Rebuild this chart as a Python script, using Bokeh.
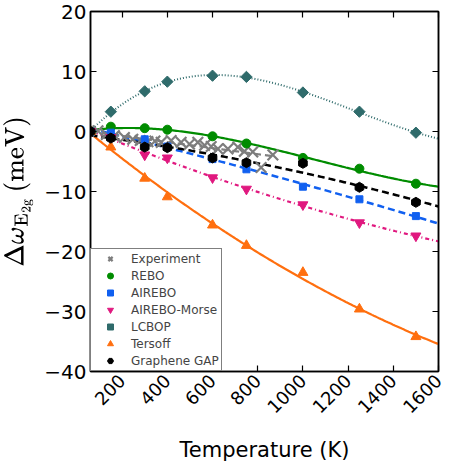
import math
import numpy as np
from bokeh.plotting import figure
from bokeh.models import Range1d, FixedTicker, LinearAxis, Legend, LegendItem
from bokeh.embed import file_html
from bokeh.resources import INLINE

# ---------------- data ----------------
T_model = [60, 150, 300, 400, 600, 750, 1000, 1250, 1500]
rebo = [0.0, 0.8, 0.55, 0.3, -0.8, -2.0, -4.4, -6.2, -8.7]
airebo = [0.0, -0.2, -1.3, -2.5, -4.6, -6.3, -9.2, -11.3, -14.1]
airebo_morse = [0.0, -1.0, -3.9, -4.4, -7.7, -9.6, -12.2, -15.2, -17.4]
lcbop = [0.0, 3.3, 6.7, 8.3, 9.3, 9.1, 6.5, 3.3, -0.2]
tersoff = [0.0, -2.6, -7.8, -10.9, -15.6, -19.0, -23.5, -29.6, -34.2]
gap = [0.0, -1.1, -2.6, -2.7, -4.4, -5.2, -5.3, -9.3, -11.8]

T_exp = [93, 130, 166, 210, 247, 280, 314, 345, 373, 417, 461, 498, 535,
         565, 594, 624, 668, 712, 741, 778, 815, 867]
exp = [0.1, -0.5, -0.7, -1.0, -1.3, -1.5, -1.7, -1.6, -1.8, -1.5, -1.8, -2.1, -1.8,
       -2.3, -2.5, -2.9, -2.9, -2.6, -3.3, -3.4, -6.0, -3.9]

x_ticks = [200, 400, 600, 800, 1000, 1200, 1400, 1600]
y_ticks = [-40, -30, -20, -10, 0, 10, 20]

X_MIN, X_MAX = 60, 1600
Y_MIN, Y_MAX = -40, 20

FONT = "DejaVu Sans"

p = figure(frame_width=348, frame_height=360, output_backend="svg",
           toolbar_location=None, x_range=Range1d(X_MIN, X_MAX),
           y_range=Range1d(Y_MIN, Y_MAX),
           min_border_left=81, min_border_right=12, min_border_top=11,
           min_border_bottom=84)
p.grid.visible = False
p.outline_line_color = "black"
p.outline_line_width = 1.5
p.background_fill_color = "white"
p.border_fill_color = "white"

for ax in [p.xaxis[0], p.yaxis[0]]:
    ax.major_tick_in = 6
    ax.major_tick_out = 0
    ax.minor_tick_in = 0
    ax.minor_tick_out = 0
    ax.axis_line_color = "black"
    ax.axis_line_width = 1.5
    ax.major_tick_line_width = 1.2
    ax.major_label_text_font = FONT
    ax.major_label_text_color = "black"
    ax.axis_label_text_font = FONT
    ax.axis_label_text_font_style = "normal"
    ax.axis_label_text_color = "black"

p.xaxis.ticker = FixedTicker(ticks=x_ticks)
p.yaxis.ticker = FixedTicker(ticks=y_ticks)
p.xaxis.major_label_orientation = math.pi / 4
p.xaxis.major_label_text_font_size = "18px"
p.xaxis.major_label_text_align = "center"
p.xaxis.major_label_standoff = 6
p.yaxis.major_label_text_font_size = "20px"
p.yaxis.major_label_overrides = {v: str(v).replace("-", "\u2212") for v in y_ticks}
p.yaxis.major_label_standoff = 4
p.xaxis.axis_label = "Temperature (K)"
p.xaxis.axis_label_text_font_size = "21px"
p.xaxis.axis_label_standoff = 16
p.yaxis.axis_label = r"$$\Delta\omega_{\mathrm{E_{2g}}}\,\mathrm{(meV)}$$"
p.yaxis.axis_label_text_font_size = "21px"
p.yaxis.axis_label_standoff = 8

# tick marks on top and right (no labels)
top = LinearAxis(ticker=FixedTicker(ticks=x_ticks),
                 major_label_overrides={t: "" for t in x_ticks},
                 major_label_text_font_size="2px",
                 major_tick_in=6, major_tick_out=0, minor_tick_in=0, minor_tick_out=0,
                 axis_line_width=1.5, major_tick_line_width=1.2, major_label_standoff=0)
right = LinearAxis(ticker=FixedTicker(ticks=y_ticks),
                   major_label_overrides={t: "" for t in y_ticks},
                   major_label_text_font_size="2px",
                   major_tick_in=6, major_tick_out=0, minor_tick_in=0, minor_tick_out=0,
                   axis_line_width=1.5, major_tick_line_width=1.2, major_label_standoff=0)
p.add_layout(top, "above")
p.add_layout(right, "right")

# fitted trend lines (computed from the data arrays)
def fit_line(xs, ys, deg, x0, x1):
    c = np.polyfit(xs, ys, deg)
    xx = np.linspace(x0, x1, 200)
    return xx, np.polyval(c, xx)

series = [
    ("LCBOP", lcbop, "#2f6b6b", "1 2", 2.0, 3),
    ("REBO", rebo, "#008c00", None, 2.2, 3),
    ("AIREBO", airebo, "#1160f0", "7 4", 2.5, 2),
    ("AIREBO-Morse", airebo_morse, "#e0187f", "4 3 1 3", 2.2, 2),
    ("Tersoff", tersoff, "#ff6f0f", None, 2.2, 2),
    ("Graphene GAP", gap, "black", "7 4", 2.5, 2),
]
for name, ys, col, dash, lw, deg in series:
    xx, yy = fit_line(T_model, ys, deg, X_MIN, X_MAX)
    kw = dict(line_color=col, line_width=lw)
    if dash:
        kw["line_dash"] = dash
    p.line(xx, yy, **kw)

xx, yy = fit_line(T_exp, exp, 1, X_MIN, max(T_exp))
p.line(xx, yy, line_color="gray", line_width=2.2, line_dash="7 4")

# markers
r_exp = p.scatter(T_exp, exp, marker="x", size=15, line_color="#7d7d7d", line_width=2.2)
r_lcbop = p.scatter(T_model, lcbop, marker="square", angle=math.pi / 4, size=8,
                    fill_color="#2f6b6b", line_color="#2f6b6b")
r_rebo = p.scatter(T_model, rebo, marker="circle", size=9,
                   fill_color="#008c00", line_color="#008c00")
r_airebo = p.scatter(T_model, airebo, marker="square", size=7,
                     fill_color="#1160f0", line_color="#1160f0")
r_morse = p.scatter(T_model, airebo_morse, marker="inverted_triangle", size=10,
                    fill_color="#e0187f", line_color="#e0187f")
r_ters = p.scatter(T_model, tersoff, marker="triangle", size=10,
                   fill_color="#ff6f0f", line_color="#ff6f0f")
r_gap = p.scatter(T_model, gap, marker="hex", angle=math.pi / 6, size=10,
                  fill_color="black", line_color="black")

legend = Legend(items=[
    LegendItem(label="Experiment", renderers=[r_exp]),
    LegendItem(label="REBO", renderers=[r_rebo]),
    LegendItem(label="AIREBO", renderers=[r_airebo]),
    LegendItem(label="AIREBO-Morse", renderers=[r_morse]),
    LegendItem(label="LCBOP", renderers=[r_lcbop]),
    LegendItem(label="Tersoff", renderers=[r_ters]),
    LegendItem(label="Graphene GAP", renderers=[r_gap]),
], location="bottom_left")
legend.margin = 0
legend.padding = 2
legend.spacing = 2
legend.glyph_width = 34
legend.glyph_height = 15
legend.label_height = 15
legend.label_standoff = 4
legend.label_text_font = FONT
legend.label_text_font_size = "12px"
legend.border_line_color = "black"
legend.border_line_width = 1.2
legend.background_fill_alpha = 1.0
p.add_layout(legend)

open("out.html", "w").write(file_html(p, INLINE))
